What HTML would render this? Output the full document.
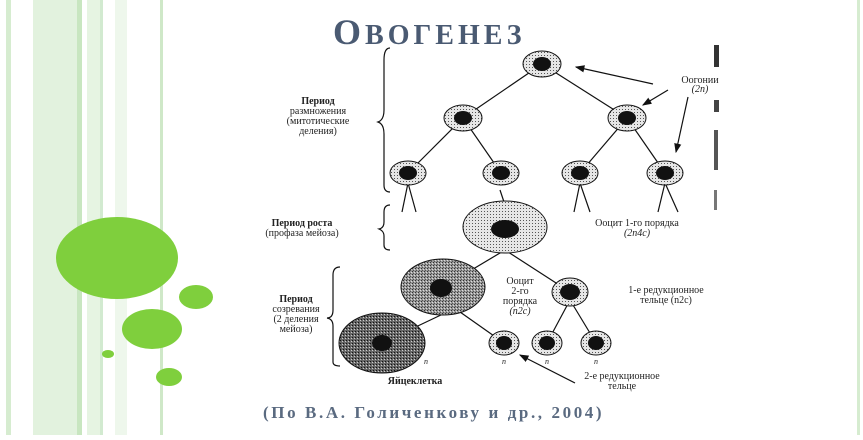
<!DOCTYPE html>
<html><head><meta charset="utf-8"><style>
body{margin:0;width:863px;height:435px;overflow:hidden;background:#fff;font-family:"Liberation Serif",serif}
</style></head><body>
<svg width="863" height="435" viewBox="0 0 863 435" xmlns="http://www.w3.org/2000/svg">
<defs>
<pattern id="st" width="3" height="3" patternUnits="userSpaceOnUse"><rect width="3" height="3" fill="#e6e6e6"/><rect x="1" y="1" width="1" height="1" fill="#555"/></pattern>
<pattern id="st2" width="3" height="3" patternUnits="userSpaceOnUse"><rect width="3" height="3" fill="#999"/><rect x="1" y="1" width="1" height="1" fill="#333"/><rect x="2" y="0" width="1" height="1" fill="#555"/><rect x="0" y="2" width="1" height="1" fill="#ddd"/></pattern>
<pattern id="st3" width="3" height="3" patternUnits="userSpaceOnUse"><rect width="3" height="3" fill="#666"/><rect x="1" y="1" width="1" height="1" fill="#111"/><rect x="0" y="2" width="1" height="1" fill="#ccc"/></pattern>
<marker id="ar" markerWidth="8" markerHeight="6" refX="7" refY="3" orient="auto"><path d="M0,0 L8,3 L0,6z" fill="#111"/></marker>
</defs>
<rect x="6" y="0" width="5" height="435" fill="#d6ecd0"/>
<rect x="33" y="0" width="44" height="435" fill="#e2f2de"/>
<rect x="77" y="0" width="5" height="435" fill="#c8e6c0"/>
<rect x="87" y="0" width="14" height="435" fill="#e6f4e2"/>
<rect x="100" y="0" width="3" height="435" fill="#d2ead0"/>
<rect x="115" y="0" width="12" height="435" fill="#eef7ec"/>
<rect x="160" y="0" width="3" height="435" fill="#cfe8c8"/>
<rect x="857" y="0" width="3" height="435" fill="#d6ecd0"/>
<ellipse cx="117" cy="258" rx="61" ry="41" fill="#7fcf3d"/>
<ellipse cx="196" cy="297" rx="17" ry="12" fill="#7fcf3d"/>
<ellipse cx="152" cy="329" rx="30" ry="20" fill="#7fcf3d"/>
<ellipse cx="108" cy="354" rx="6" ry="4" fill="#7fcf3d"/>
<ellipse cx="169" cy="377" rx="13" ry="9" fill="#7fcf3d"/>
<text x="333" y="44" font-size="36" font-weight="bold" fill="#4a5a72" letter-spacing="4">О<tspan font-size="28">ВОГЕНЕЗ</tspan></text>
<rect x="714" y="45" width="5" height="22" fill="#333"/>
<rect x="714" y="100" width="5" height="12" fill="#444"/>
<rect x="714" y="130" width="4" height="40" fill="#555"/>
<rect x="714" y="190" width="3" height="20" fill="#777"/>
<g stroke="#111" stroke-width="1.2" fill="none">
<line x1="542" y1="64" x2="463" y2="118"/><line x1="542" y1="64" x2="627" y2="118"/>
<line x1="463" y1="118" x2="408" y2="173"/><line x1="463" y1="118" x2="501" y2="173"/>
<line x1="627" y1="118" x2="580" y2="173"/><line x1="627" y1="118" x2="665" y2="173"/>
<path d="M402,212 L408,183 L416,212"/><path d="M500,190 L505,205"/>
<path d="M574,212 L580,183 L590,212"/><path d="M658,212 L665,183 L678,212"/>
<line x1="505" y1="250" x2="443" y2="287"/><line x1="505" y1="250" x2="570" y2="292"/>
<line x1="443" y1="314" x2="382" y2="343"/><line x1="443" y1="300" x2="504" y2="343"/>
<line x1="570" y1="300" x2="547" y2="343"/><line x1="570" y1="300" x2="596" y2="343"/>
<path d="M390,48 Q384,48 384,60 L384,110 Q384,120 378,122 Q384,124 384,134 L384,185 Q384,192 390,192"/>
<path d="M390,205 Q384,205 384,212 L384,222 Q384,228 379,229 Q384,231 384,236 L384,245 Q384,250 390,250"/>
<path d="M340,267 Q333,267 333,275 L333,310 Q333,318 327,318 Q333,319 333,326 L333,362 Q333,366 340,366"/>
<line x1="653" y1="84" x2="576" y2="67" marker-end="url(#ar)"/>
<line x1="668" y1="90" x2="643" y2="105" marker-end="url(#ar)"/>
<line x1="688" y1="97" x2="676" y2="152" marker-end="url(#ar)"/>
<line x1="575" y1="383" x2="520" y2="355" marker-end="url(#ar)"/>
</g>
<g stroke="#111" stroke-width="1">
<g fill="url(#st)">
<ellipse cx="542" cy="64" rx="19" ry="13"/>
<ellipse cx="463" cy="118" rx="19" ry="13"/><ellipse cx="627" cy="118" rx="19" ry="13"/>
<ellipse cx="408" cy="173" rx="18" ry="12"/><ellipse cx="501" cy="173" rx="18" ry="12"/>
<ellipse cx="580" cy="173" rx="18" ry="12"/><ellipse cx="665" cy="173" rx="18" ry="12"/>
<ellipse cx="505" cy="227" rx="42" ry="26"/>
<ellipse cx="570" cy="292" rx="18" ry="14"/>
<ellipse cx="504" cy="343" rx="15" ry="12"/><ellipse cx="547" cy="343" rx="15" ry="12"/><ellipse cx="596" cy="343" rx="15" ry="12"/>
</g>
<ellipse cx="443" cy="287" rx="42" ry="28" fill="url(#st2)"/>
<ellipse cx="382" cy="343" rx="43" ry="30" fill="url(#st3)"/>
</g>
<g fill="#111">
<ellipse cx="542" cy="64" rx="9" ry="7"/>
<ellipse cx="463" cy="118" rx="9" ry="7"/><ellipse cx="627" cy="118" rx="9" ry="7"/>
<ellipse cx="408" cy="173" rx="9" ry="7"/><ellipse cx="501" cy="173" rx="9" ry="7"/>
<ellipse cx="580" cy="173" rx="9" ry="7"/><ellipse cx="665" cy="173" rx="9" ry="7"/>
<ellipse cx="505" cy="229" rx="14" ry="9"/>
<ellipse cx="441" cy="288" rx="11" ry="9"/>
<ellipse cx="382" cy="343" rx="10" ry="8"/>
<ellipse cx="570" cy="292" rx="10" ry="8"/>
<ellipse cx="504" cy="343" rx="8" ry="7"/><ellipse cx="547" cy="343" rx="8" ry="7"/><ellipse cx="596" cy="343" rx="8" ry="7"/>
</g>
<g font-size="10" fill="#222" text-anchor="middle">
<text x="318" y="104" font-weight="bold">Период</text>
<text x="318" y="114">размножения</text>
<text x="318" y="124">(митотические</text>
<text x="318" y="134">деления)</text>
<text x="700" y="83">Оогонии</text><text x="700" y="92" font-style="italic">(2n)</text>
<text x="302" y="226" font-weight="bold">Период роста</text>
<text x="302" y="236">(профаза мейоза)</text>
<text x="637" y="226">Ооцит 1-го порядка</text>
<text x="637" y="236" font-style="italic">(2n4c)</text>
<text x="296" y="302" font-weight="bold">Период</text>
<text x="296" y="312">созревания</text>
<text x="296" y="322">(2 деления</text>
<text x="296" y="332">мейоза)</text>
<text x="520" y="284">Ооцит</text><text x="520" y="294">2-го</text><text x="520" y="304">порядка</text><text x="520" y="314" font-style="italic">(n2c)</text>
<text x="666" y="293">1-е редукционное</text>
<text x="666" y="303">тельце (n2c)</text>
<text x="622" y="379">2-е редукционное</text>
<text x="622" y="389">тельце</text>
<text x="415" y="384" font-weight="bold">Яйцеклетка</text>
<g font-style="italic" font-size="8"><text x="426" y="364">n</text><text x="504" y="364">n</text><text x="547" y="364">n</text><text x="596" y="364">n</text></g>
</g>
<text x="263" y="418" font-size="17" font-weight="bold" fill="#5a6a80" letter-spacing="2.6">(По В.А. Голиченкову и др., 2004)</text>
</svg>
</body></html>
